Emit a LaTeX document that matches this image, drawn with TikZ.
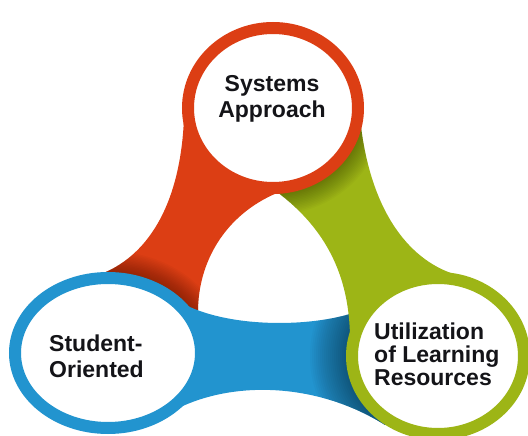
\documentclass[tikz,border=0pt]{standalone}
\usepackage{fontspec}
\setmainfont{Liberation Sans}
\definecolor{cRed}{RGB}{220,62,20}
\definecolor{cBlue}{RGB}{34,148,207}
\definecolor{cGreen}{RGB}{157,181,22}
\definecolor{txt}{RGB}{20,20,24}
\begin{document}
\begin{tikzpicture}[x=1pt,y=-1pt,
  lbl/.style={font=\bfseries\fontsize{23}{26}\selectfont, text=txt, inner sep=0pt},
  ring/.style={fill=white, line width=12pt},
  shadowline/.style={draw=black, opacity=0.024}]
\useasboundingbox (0,0) rectangle (528,436);
\coordinate (cR) at (273,108);
\coordinate (cB) at (108,353);
\coordinate (cG) at (438,356);
\def\pRed{(277,193) .. controls (225,215) and (198,262) .. (198,312) -- (cB) -- (95,276) .. controls (140,262) and (180,215) .. (184,118) -- (cR) -- cycle}
\def\pBlue{(180,302) .. controls (225,328) and (310,328) .. (356,312) -- (cG) -- (385,425) .. controls (310,378) and (215,380) .. (158,420) -- (cB) -- cycle}
\def\pGreen{(277,192) .. controls (325,228) and (350,275) .. (350,340) -- (cG) -- (457,275) .. controls (412,262) and (370,215) .. (360,118) -- (cR) -- cycle}
% bridges
\fill[cRed] \pRed;
\begin{scope}
  \clip \pRed;
  \foreach \w in {12,15,...,54} {\draw[shadowline, line width=\w pt] (cB) ellipse [x radius=93, y radius=75];}
\end{scope}
\fill[cBlue] \pBlue;
\begin{scope}
  \clip \pBlue;
  \foreach \w in {12,16,...,84} {\draw[shadowline, line width=\w pt] (cG) ellipse [x radius=86, y radius=78];}
\end{scope}
\fill[cGreen] \pGreen;
\begin{scope}
  \clip \pGreen;
  \foreach \w in {12,15,...,54} {\draw[shadowline, line width=\w pt] (cR) ellipse [x radius=85, y radius=80];}
\end{scope}
% circles
\draw[ring, draw=cRed] (cR) ellipse [x radius=85, y radius=80];
\draw[ring, draw=cBlue] (cB) ellipse [x radius=93, y radius=75];
\draw[ring, draw=cGreen] (cG) ellipse [x radius=86, y radius=78];
% labels
\node[lbl, align=center] (tR) at (272,99) {Systems\\Approach};
\node[lbl, align=left, anchor=west] (tB) at (49,356) {Student-\\Oriented};
\node[lbl, align=left, anchor=west, font=\bfseries\fontsize{23}{23}\selectfont] (tG) at (374,354) {Utilization\\of Learning\\Resources};
\end{tikzpicture}
\end{document}
